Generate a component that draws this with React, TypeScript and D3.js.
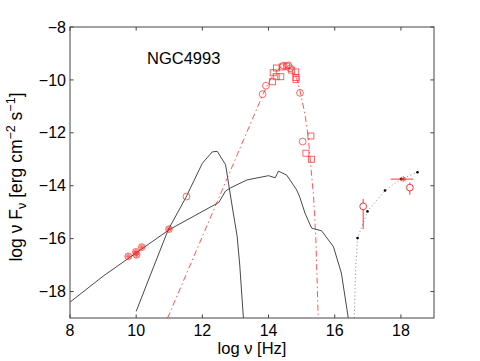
import React from 'react';
import * as d3 from 'd3';

// model curves (log nu, log nuFnu)
const syncX = [8, 9, 11, 12.5, 12.7, 12.85, 13.35, 14.0, 14.2, 14.3, 14.55, 14.85, 14.95, 15.1, 15.3, 15.4, 15.6, 15.96, 16.2, 16.41];
const syncY = [-18.4, -17.42, -15.66, -14.63, -14.2, -14.08, -13.78, -13.62, -13.7, -13.45, -13.6, -14.16, -14.45, -15.03, -15.6, -15.64, -15.7, -16.3, -17.3, -19];

const dustX = [10.0, 10.5, 10.97, 11.5, 11.75, 12.0, 12.3, 12.45, 12.7, 12.93, 13.05, 13.13, 13.24];
const dustY = [-18.75, -17.15, -15.66, -14.45, -13.8, -13.15, -12.72, -12.7, -13.2, -15.0, -15.9, -17.0, -19];

const starX = [10.95, 13.84, 14.0, 14.2, 14.45, 14.7, 14.85, 14.95, 15.1, 15.2, 15.28, 15.36, 15.43, 15.5];
const starY = [-19, -10.52, -10.1, -9.7, -9.45, -9.6, -9.95, -10.4, -11.3, -12.15, -13.3, -14.4, -16.0, -19];

const xrayX = [16.59, 16.63, 16.69, 16.99, 17.52, 18.0, 18.5];
const xrayY = [-19, -17.2, -15.98, -14.97, -14.18, -13.75, -13.49];

// observed points
const radioX = [9.76, 9.99, 10.01, 10.17, 10.99];
const radioY = [-16.67, -16.5, -16.61, -16.32, -15.64];

const circX = [11.52, 13.82, 13.92, 14.45, 14.6, 14.65, 14.95, 15.03];
const circY = [-14.41, -10.54, -10.22, -9.46, -9.45, -9.56, -10.49, -12.33];

const sqX = [14.12, 14.14, 14.24, 14.23, 14.37, 14.41, 14.55, 14.7, 14.82, 14.83, 14.83, 15.13, 15.28, 15.3];
const sqY = [-10.07, -9.73, -9.55, -9.88, -9.88, -9.51, -9.48, -9.63, -9.7, -9.91, -9.98, -12.77, -12.12, -13.0];

const xcX = [16.86, 18.27];
const xcY = [-14.78, -14.07];
const xcLo = [-15.64, -14.34];
const xcHi = [-14.5, -13.88];

const xsX = [18.07];
const xsY = [-13.75];
const xsLo = [17.69];
const xsHi = [18.37];

const xTicks = [8, 10, 12, 14, 16, 18];
const yTicks = [-8, -10, -12, -14, -16, -18];

const W = 480, H = 361;
const m = { left: 70, right: 46, top: 27, bottom: 43 };
const FONT = '"Liberation Sans", Arial, Helvetica, sans-serif';
const RED = '#ff2020';

const zip = (xs: number[], ys: number[]) => xs.map((x, i) => [x, ys[i]] as [number, number]);

function Asterisk({ x, y, r, color }: { x: number; y: number; r: number; color: string }) {
  const d = r * 0.7;
  return (
    <g stroke={color} strokeWidth={0.8}>
      <line x1={x - r} y1={y} x2={x + r} y2={y} />
      <line x1={x} y1={y - r} x2={x} y2={y + r} />
      <line x1={x - d} y1={y - d} x2={x + d} y2={y + d} />
      <line x1={x - d} y1={y + d} x2={x + d} y2={y - d} />
    </g>
  );
}

export default function App() {
  const x = d3.scaleLinear().domain([8, 19]).range([m.left, W - m.right]);
  const y = d3.scaleLinear().domain([-19, -8]).range([H - m.bottom, m.top]);
  const line = d3.line<[number, number]>().x(d => x(d[0])).y(d => y(d[1]));

  const x0 = x(8), x1 = x(19), y0 = y(-19), y1 = y(-8);
  const tl = 3.6;

  return (
    <svg width={W} height={H} style={{ position: 'absolute', left: 0, top: 0, background: '#fff' }} fontFamily={FONT}>
      <defs>
        <clipPath id="plot">
          <rect x={x0} y={y1} width={x1 - x0} height={y0 - y1} />
        </clipPath>
      </defs>

      <g clipPath="url(#plot)" fill="none">
        <path d={line(zip(syncX, syncY)) || ''} stroke="#333" strokeWidth={0.9} />
        <path d={line(zip(dustX, dustY)) || ''} stroke="#333" strokeWidth={0.9} />
        <path d={line(zip(starX, starY)) || ''} stroke={RED} strokeWidth={0.9} strokeDasharray="6,3,1.5,3" opacity={0.85} />
        <path d={line(zip(xrayX, xrayY)) || ''} stroke="#777" strokeWidth={0.9} strokeDasharray="1,2.6" />
      </g>

      {/* x-ray model dots */}
      {xrayX.slice(2).map((v, i) => (
        <circle key={'d' + i} cx={x(v)} cy={y(xrayY[i + 2])} r={1.3} fill="#000" />
      ))}

      {/* radio points: circle + asterisk */}
      {radioX.map((v, i) => (
        <g key={'r' + i} opacity={0.75}>
          <circle cx={x(v)} cy={y(radioY[i])} r={3.4} fill="rgba(255,0,0,0.25)" stroke={RED} strokeWidth={0.8} />
          <Asterisk x={x(v)} y={y(radioY[i])} r={3} color={RED} />
        </g>
      ))}

      {circX.map((v, i) => (
        <circle key={'c' + i} cx={x(v)} cy={y(circY[i])} r={3.4} fill="none" stroke={RED} strokeWidth={0.8} opacity={0.85} />
      ))}

      {sqX.map((v, i) => (
        <rect key={'s' + i} x={x(v) - 3} y={y(sqY[i]) - 3} width={6} height={6} fill="none" stroke={RED} strokeWidth={0.8} opacity={0.85} />
      ))}

      {/* x-ray points with error bars */}
      {xcX.map((v, i) => (
        <g key={'xc' + i} stroke={RED} strokeWidth={0.9} fill="none">
          <line x1={x(v)} x2={x(v)} y1={y(xcLo[i])} y2={y(xcHi[i])} />
          <circle cx={x(v)} cy={y(xcY[i])} r={3.4} fill="#fff" />
        </g>
      ))}
      {xsX.map((v, i) => (
        <g key={'xs' + i} stroke={RED} strokeWidth={0.9}>
          <line x1={x(xsLo[i])} x2={x(xsHi[i])} y1={y(xsY[i])} y2={y(xsY[i])} />
          <Asterisk x={x(v)} y={y(xsY[i])} r={3} color={RED} />
        </g>
      ))}

      {/* frame */}
      <rect x={x0} y={y1} width={x1 - x0} height={y0 - y1} fill="none" stroke="#444" strokeWidth={1} />

      {xTicks.map(t => (
        <g key={'xt' + t}>
          <line x1={x(t)} x2={x(t)} y1={y0} y2={y0 - tl} stroke="#444" />
          <line x1={x(t)} x2={x(t)} y1={y1} y2={y1 + tl} stroke="#444" />
          <text x={x(t)} y={y0 + 18} textAnchor="middle" fontSize={16}>{t}</text>
        </g>
      ))}
      {yTicks.map(t => (
        <g key={'yt' + t}>
          <line x1={x0} x2={x0 + tl} y1={y(t)} y2={y(t)} stroke="#444" />
          <line x1={x1} x2={x1 - tl} y1={y(t)} y2={y(t)} stroke="#444" />
          <text x={x0 - 4} y={y(t)} dy="0.35em" textAnchor="end" fontSize={16}>{'\u2212' + Math.abs(t)}</text>
        </g>
      ))}

      <text x={147} y={64} fontSize={16.5}>NGC4993</text>

      <text x={252} y={354} textAnchor="middle" fontSize={16.5}>log ν [Hz]</text>

      <text transform="translate(22,177) rotate(-90)" textAnchor="middle" fontSize={17.5}>
        log ν F<tspan fontSize={12.5} dy={4}>ν</tspan>
        <tspan dy={-4}> [erg cm</tspan>
        <tspan fontSize={12.5} dy={-7}>−2</tspan>
        <tspan dy={7}> s</tspan>
        <tspan fontSize={12.5} dy={-7}>−1</tspan>
        <tspan dy={7}>]</tspan>
      </text>
    </svg>
  );
}
